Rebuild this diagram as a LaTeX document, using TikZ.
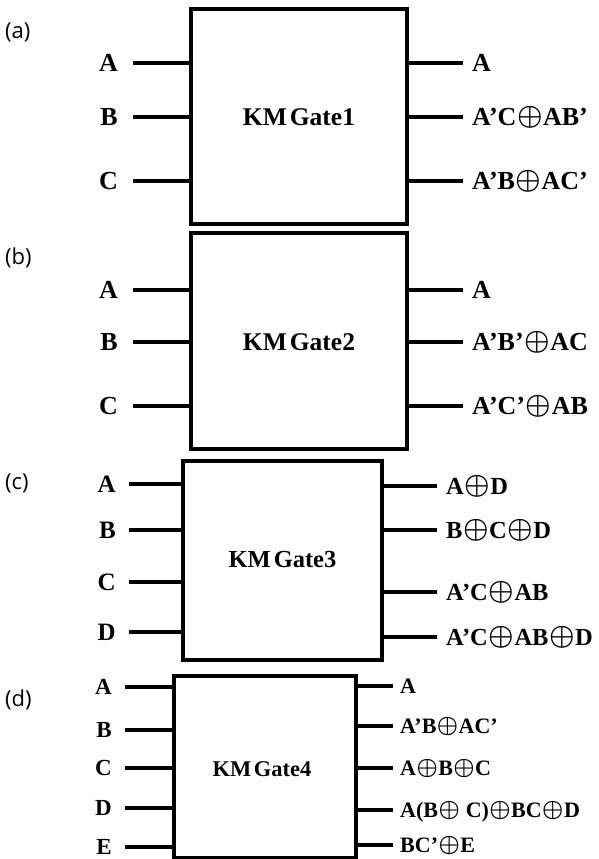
\documentclass[tikz,border=0pt]{standalone}
\usepackage{fontspec}
\usepackage{graphicx}
\setmainfont{Liberation Serif}
\newfontfamily\capfont{Open Sans}
\newcommand{\xo}{\kern0.02em\raisebox{0.04em}{\scalebox{1.15}{\boldmath$\oplus$}}\kern0.02em}
\tikzset{
  wire/.style={line width=3.2pt},
  gatebox/.style={draw, line width=3.2pt, inner sep=0pt},
  lab/.style={font=\bfseries, inner sep=0pt},
  kmlab/.style={font=\bfseries, inner sep=0pt},
  panel/.style={font=\capfont\fontsize{22}{26}\selectfont, anchor=west, inner sep=0pt}
}
\begin{document}
\begin{tikzpicture}[x=1pt,y=-1pt]
\useasboundingbox (0,0) rectangle (598,859);
% ---------- (a) ----------
\node[panel] (pa) at (5,32) {(a)};
\node[gatebox, minimum width=216pt, minimum height=215pt] (g1) at (299,116.5) {};
\node[kmlab, font=\bfseries\fontsize{25.5}{28}\selectfont] (k1) at (299,117) {KM\kern0.12em Gate1};
\foreach \y/\t [count=\i] in {63/A,117/B,181/C}{
  \node[lab, font=\bfseries\fontsize{26}{28}\selectfont, anchor=base east, yshift=-8.6pt] (ai\i) at (118,\y) {\t};
  \coordinate (ais\i) at (133,\y);
  \draw[wire] (ais\i) -- (ais\i -| g1.west);
}
\foreach \y/\t [count=\i] in {63/A,117/{A’C\xo AB’},181/{A’B\xo AC’}}{
  \coordinate (aoe\i) at (463,\y);
  \draw[wire] (aoe\i -| g1.east) -- (aoe\i);
  \node[lab, font=\bfseries\fontsize{26}{28}\selectfont, anchor=base west, yshift=-8.6pt] (ao\i) at (472,\y) {\t};
}
% ---------- (b) ----------
\node[panel] (pb) at (5,258) {(b)};
\node[gatebox, minimum width=216pt, minimum height=216pt] (g2) at (299,341) {};
\node[kmlab, font=\bfseries\fontsize{25.5}{28}\selectfont] (k2) at (299,342) {KM\kern0.12em Gate2};
\foreach \y/\t [count=\i] in {290/A,342/B,406/C}{
  \node[lab, font=\bfseries\fontsize{26}{28}\selectfont, anchor=base east, yshift=-8.6pt] (bi\i) at (118,\y) {\t};
  \coordinate (bis\i) at (133,\y);
  \draw[wire] (bis\i) -- (bis\i -| g2.west);
}
\foreach \y/\t [count=\i] in {290/A,342/{A’B’\xo AC},406/{A’C’\xo AB}}{
  \coordinate (boe\i) at (463,\y);
  \draw[wire] (boe\i -| g2.east) -- (boe\i);
  \node[lab, font=\bfseries\fontsize{26}{28}\selectfont, anchor=base west, yshift=-8.6pt] (bo\i) at (472,\y) {\t};
}
% ---------- (c) ----------
\node[panel] (pc) at (5,483) {(c)};
\node[gatebox, minimum width=199pt, minimum height=199pt] (g3) at (282.5,560.5) {};
\node[kmlab, font=\bfseries\fontsize{24.5}{27}\selectfont] (k3) at (282.5,560) {KM\kern0.12em Gate3};
\foreach \y/\t [count=\i] in {484/A,530/B,582/C,632/D}{
  \node[lab, font=\bfseries\fontsize{25}{27}\selectfont, anchor=base east, yshift=-8.3pt] (ci\i) at (116,\y) {\t};
  \coordinate (cis\i) at (129,\y);
  \draw[wire] (cis\i) -- (cis\i -| g3.west);
}
\foreach \y/\t [count=\i] in {486/{A\xo D},530/{B\xo C\xo D},592/{A’C\xo AB},637/{A’C\xo AB\xo D}}{
  \coordinate (coe\i) at (437,\y);
  \draw[wire] (coe\i -| g3.east) -- (coe\i);
  \node[lab, font=\bfseries\fontsize{24.5}{27}\selectfont, anchor=base west, yshift=-8.1pt] (co\i) at (446,\y) {\t};
}
% ---------- (d) ----------
\node[panel] (pd) at (5,700) {(d)};
\node[gatebox, minimum width=182pt, minimum height=182pt] (g4) at (265,767) {};
\node[kmlab, font=\bfseries\fontsize{22.5}{25}\selectfont] (k4) at (262,769) {KM\kern0.12em Gate4};
\foreach \y/\t [count=\i] in {687/A,730/B,768/C,808/D,847/E}{
  \node[lab, font=\bfseries\fontsize{23}{25}\selectfont, anchor=base east, yshift=-7.6pt] (di\i) at (112,\y) {\t};
  \coordinate (dis\i) at (125,\y);
  \draw[wire] (dis\i) -- (dis\i -| g4.west);
}
\foreach \y/\t [count=\i] in {686/A,726/{A’B\xo AC’},768/{A\xo B\xo C},810/{A(B\xo\ C)\xo BC\xo D},845/{BC’\xo E}}{
  \coordinate (doe\i) at (393,\y);
  \draw[wire] (doe\i -| g4.east) -- (doe\i);
  \node[lab, font=\bfseries\fontsize{22}{25}\selectfont, anchor=base west, yshift=-7.3pt] (do\i) at (400,\y) {\t};
}
\end{tikzpicture}
\end{document}
